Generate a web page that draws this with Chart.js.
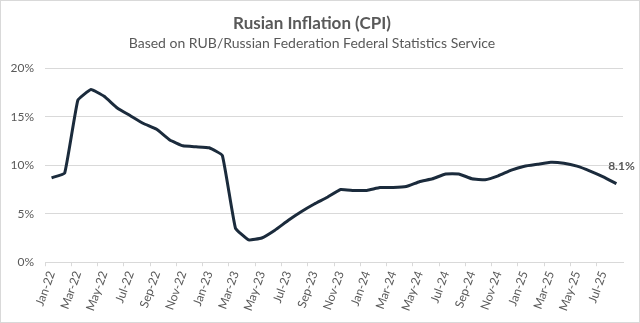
<!DOCTYPE html>
<html>
<head>
<meta charset="utf-8">
<script src="https://cdn.jsdelivr.net/npm/chart.js@4/dist/chart.umd.min.js"></script>
<style>
  html, body { margin: 0; padding: 0; background: #fff; }
  #wrap { position: relative; width: 638px; height: 321px; border: 1px solid #d9d9d9; }
</style>
</head>
<body>
<div id="wrap"><canvas id="chart"></canvas></div>
<script>
// monthly CPI, year over year
const months = [
    'Jan-22', 'Feb-22', 'Mar-22', 'Apr-22', 'May-22', 'Jun-22', 'Jul-22', 'Aug-22', 'Sep-22', 'Oct-22', 'Nov-22', 'Dec-22',
    'Jan-23', 'Feb-23', 'Mar-23', 'Apr-23', 'May-23', 'Jun-23', 'Jul-23', 'Aug-23', 'Sep-23', 'Oct-23', 'Nov-23', 'Dec-23',
    'Jan-24', 'Feb-24', 'Mar-24', 'Apr-24', 'May-24', 'Jun-24', 'Jul-24', 'Aug-24', 'Sep-24', 'Oct-24', 'Nov-24', 'Dec-24',
    'Jan-25', 'Feb-25', 'Mar-25', 'Apr-25', 'May-25', 'Jun-25', 'Jul-25', 'Aug-25'
];
const inflation = [
    8.7, 9.2, 16.7, 17.8, 17.1, 15.9, 15.1, 14.3, 13.7, 12.6, 12.0, 11.9,
    11.8, 11.0, 3.5, 2.3, 2.5, 3.3, 4.3, 5.2, 6.0, 6.7, 7.5, 7.4,
    7.4, 7.7, 7.7, 7.8, 8.3, 8.6, 9.1, 9.1, 8.6, 8.5, 8.9, 9.5,
    9.9, 10.1, 10.3, 10.2, 9.9, 9.4, 8.8, 8.1
];
const yTicks = [0, 5, 10, 15, 20];

const textGray = '#595959';
const gridGray = '#d9d9d9';
const font = 'Lato';

// label on the last point only
const lastLabel = {
    id: 'lastLabel',
    afterDatasetsDraw(chart) {
        const meta = chart.getDatasetMeta(0);
        const pt = meta.data[meta.data.length - 1];
        const ctx = chart.ctx;
        ctx.save();
        ctx.font = `bold 12px ${font}`;
        ctx.fillStyle = textGray;
        ctx.textAlign = 'center';
        ctx.textBaseline = 'bottom';
        ctx.fillText(inflation[inflation.length - 1].toFixed(1) + '%', pt.x + 5, pt.y - 12);
        ctx.restore();
    }
};

new Chart(document.getElementById('chart'), {
    type: 'line',
    data: {
        labels: months,
        datasets: [{
            data: inflation,
            borderColor: '#1b2b3c',
            borderWidth: 3,
            pointRadius: 0,
            tension: 0.1,
            fill: false,
        }],
    },
    options: {
        responsive: true,
        maintainAspectRatio: false,
        animation: false,
        layout: { padding: { left: 0, right: 16, top: 2, bottom: 6 } },
        plugins: {
            legend: { display: false },
            tooltip: { enabled: false },
            title: {
                display: true,
                text: 'Rusian Inflation (CPI)',
                color: textGray,
                font: { family: font, size: 17, weight: 'bold' },
                padding: { top: 10, bottom: 2 },
            },
            subtitle: {
                display: true,
                text: 'Based on RUB/Russian Federation Federal Statistics Service',
                color: textGray,
                font: { family: font, size: 14 },
                padding: { bottom: 16 },
            },
        },
        scales: {
            x: {
                offset: true,
                border: { color: gridGray },
                grid: {
                    offset: true,
                    drawOnChartArea: false,
                    tickLength: 4,
                    color: (c) => (c.index % 2 === 0 ? gridGray : 'rgba(0,0,0,0)'),
                },
                ticks: {
                    autoSkip: false,
                    minRotation: 70,
                    maxRotation: 70,
                    color: textGray,
                    font: { family: font, size: 12 },
                    callback: (v, i) => (i % 2 === 0 ? months[i] : ''),
                },
            },
            y: {
                min: yTicks[0],
                max: yTicks[yTicks.length - 1],
                border: { display: false },
                grid: { color: gridGray, drawTicks: false },
                afterBuildTicks: (axis) => { axis.ticks = yTicks.map((v) => ({ value: v })); },
                afterFit: (axis) => { axis.width = 44; },
                ticks: {
                    color: textGray,
                    padding: 11,
                    font: { family: font, size: 12 },
                    callback: (v) => v + '%',
                },
            },
        },
    },
    plugins: [lastLabel],
});
</script>
</body>
</html>
